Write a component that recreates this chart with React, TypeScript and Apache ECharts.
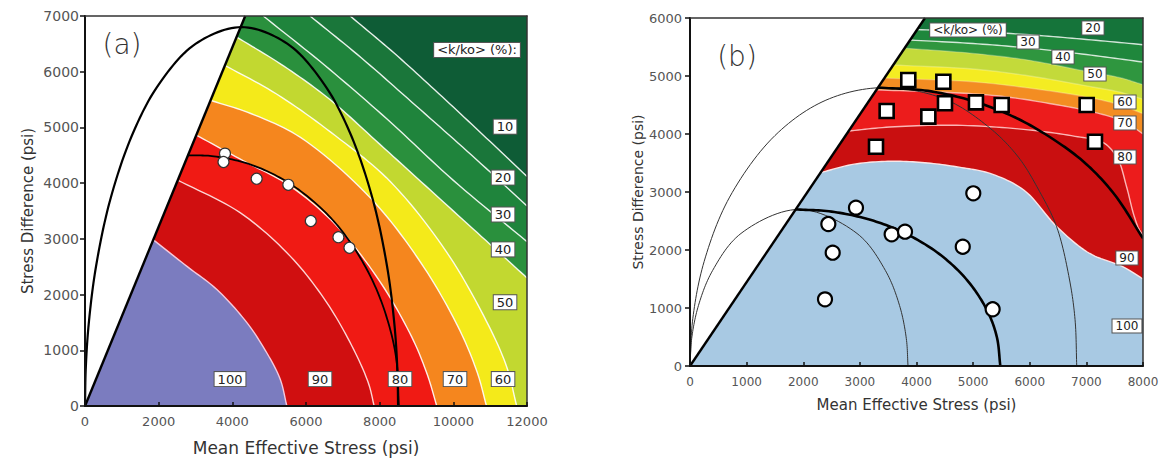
import React, { useEffect, useRef } from 'react';
import * as echarts from 'echarts';

const FONT = '"DejaVu Sans", "Liberation Sans", sans-serif';

/* ---------------- panel (a) data ---------------- */
const A_P_MAX = 12000;
const A_P_STEP = 2000;
const A_Q_MAX = 7000;
const A_Q_STEP = 1000;
const A_DIAGONAL = [[0, 0], [4350, 7000]];
// permeability bands, outermost first
const A_BANDS = ['10', '20', '30', '40', '50', '60', '70', '80', '90', '100'];
// contour boundaries (outer -> inner); boundary k encloses band k+1
const A_EDGE_20 = [[7200, 7000], [8400, 6330], [9600, 5610], [10800, 4870], [12000, 4120]];
const A_EDGE_30 = [[6110, 7000], [7500, 6250], [9000, 5380], [10500, 4500], [12000, 3590]];
const A_EDGE_40 = [[4840, 7000], [6500, 6120], [8200, 5150], [10000, 4050], [12000, 2950]];
const A_EDGE_50 = [[4100, 6630], [5400, 6100], [6650, 5500], [8000, 4700], [9500, 3800], [11000, 2900], [12000, 2300]];
const A_EDGE_60 = [[3780, 6120], [5200, 5600], [6800, 4850], [8300, 4020], [9800, 2780], [10900, 1520], [11450, 700], [11720, 0]];
const A_EDGE_70 = [[3390, 5490], [4500, 5250], [5850, 4820], [7740, 3740], [9110, 2580], [10130, 1420], [10650, 600], [10900, 0]];
const A_EDGE_80 = [[3000, 4870], [4300, 4400], [5520, 3970], [6780, 3270], [7980, 2260], [8870, 1240], [9300, 550], [9550, 0]];
const A_EDGE_90 = [[2500, 4060], [4210, 3470], [5570, 2690], [6560, 1860], [7290, 1020], [7700, 400], [7850, 0]];
const A_EDGE_100 = [[1840, 2990], [2760, 2510], [3580, 2090], [4390, 1500], [4930, 960], [5300, 480], [5480, 0]];
const A_EDGES = [A_EDGE_20, A_EDGE_30, A_EDGE_40, A_EDGE_50, A_EDGE_60, A_EDGE_70, A_EDGE_80, A_EDGE_90, A_EDGE_100];
// yield caps
const A_CAP_LARGE = [[0, 0], [20, 659], [100, 1466], [300, 2509], [700, 3739], [1300, 4895], [2000, 5769], [3000, 6499], [4250, 6800], [5500, 6499], [6500, 5769], [7200, 4895], [7800, 3739], [8200, 2509], [8400, 1466], [8480, 659], [8500, 0]];
const A_CAP_SMALL = [[2800, 4500], [3500, 4482], [4500, 4333], [5500, 4018], [6500, 3493], [7200, 2941], [7800, 2259], [8200, 1572], [8450, 851], [8520, 0]];
const A_CAPS = [A_CAP_LARGE, A_CAP_SMALL];
// test points
const A_TESTS = [[3800, 4530], [3760, 4380], [4660, 4080], [5520, 3970], [6130, 3320], [6880, 3030], [7180, 2840]];
// contour labels
const A_LABEL_TEXT = ['<k/ko> (%):', '10', '20', '30', '40', '50', '100', '90', '80', '70', '60'];
const A_LABEL_AT = [[10643, 6391], [11404, 5013], [11350, 4100], [11350, 3437], [11350, 2811], [11404, 1862], [3937, 483], [6381, 483], [8553, 483], [10046, 483], [11350, 483]];

/* ---------------- panel (b) data ---------------- */
const B_P_MAX = 8000;
const B_P_STEP = 1000;
const B_Q_MAX = 6000;
const B_Q_STEP = 1000;
const B_DIAGONAL = [[0, 0], [4150, 6000]];
const B_BANDS = ['20', '30', '40', '50', '60', '70', '80', '90', '100'];
const B_EDGE_30 = [[4010, 5800], [5000, 5770], [6000, 5710], [7000, 5630], [8000, 5540]];
const B_EDGE_40 = [[3890, 5620], [5000, 5560], [6000, 5480], [7000, 5370], [8000, 5240]];
const B_EDGE_50 = [[3790, 5480], [5000, 5390], [6000, 5270], [7000, 5080], [7600, 4970], [8000, 4850]];
const B_EDGE_60 = [[3590, 5190], [5000, 5120], [6000, 5000], [7000, 4830], [7600, 4720], [8000, 4600]];
const B_EDGE_70 = [[3430, 4965], [5000, 4900], [6000, 4790], [7000, 4640], [7600, 4500], [8000, 4350]];
const B_EDGE_80 = [[3290, 4760], [4500, 4720], [5500, 4650], [6500, 4500], [7200, 4360], [7700, 4200], [8000, 4000]];
const B_EDGE_90 = [[2790, 4050], [3530, 4120], [4710, 4150], [5890, 4080], [6800, 3960], [7300, 3850], [7550, 3580], [7710, 3090], [7830, 2630], [7920, 2380], [8000, 2250]];
const B_EDGE_100 = [[2290, 3330], [2900, 3480], [3550, 3530], [4200, 3500], [4800, 3420], [5300, 3320], [5900, 3030], [6480, 2400], [7060, 1940], [7650, 1710], [8000, 1500]];
const B_EDGES = [B_EDGE_30, B_EDGE_40, B_EDGE_50, B_EDGE_60, B_EDGE_70, B_EDGE_80, B_EDGE_90, B_EDGE_100];
const B_CAP_THIN_1 = [[0, 0], [30, 475], [150, 1045], [400, 1648], [900, 2285], [1925, 2700], [2950, 2285], [3450, 1648], [3700, 1045], [3820, 475], [3850, 0]];
const B_CAP_THIN_2 = [[0, 0], [50, 822], [250, 1803], [700, 2912], [1500, 3973], [2400, 4583], [3415, 4800], [4500, 4600], [5300, 4100], [5800, 3600], [6150, 3050], [6475, 2400], [6700, 1500], [6800, 800], [6830, 0]];
const B_CAP_THICK_1 = [[1860, 2700], [2500, 2662], [3200, 2516], [3800, 2288], [4400, 1933], [4900, 1473], [5250, 953], [5420, 495], [5480, 0]];
const B_CAP_THICK_2 = [[3320, 4800], [4200, 4743], [5000, 4567], [5800, 4258], [6500, 3854], [7000, 3480], [7500, 2953], [8000, 2200]];
const B_CAPS = [B_CAP_THIN_1, B_CAP_THIN_2, B_CAP_THICK_1, B_CAP_THICK_2];
const B_TESTS_SQUARE = [[3855, 4931], [4474, 4902], [3473, 4397], [4209, 4299], [4503, 4529], [5050, 4546], [5504, 4500], [7005, 4500], [7152, 3867], [3285, 3781]];
const B_TESTS_CIRCLE = [[2931, 2730], [2443, 2448], [2520, 1954], [2384, 1149], [3561, 2270], [3797, 2316], [5003, 2977], [4817, 2057], [5345, 978]];
const B_LABEL_TEXT = ['<k/ko> (%)', '20', '30', '40', '50', '60', '70', '80', '90', '100'];
const B_LABEL_AT = [[4909, 5793], [7116, 5828], [5969, 5586], [6587, 5328], [7152, 5034], [7681, 4552], [7681, 4190], [7681, 3603], [7717, 1862], [7717, 690]];

const AXIS_NAME_X = 'Mean Effective Stress (psi)';
const AXIS_NAME_Y = 'Stress Difference (psi)';

/* ---------------- styles ---------------- */
const A_BAND_COLORS = ['#0e5c36', '#1a763a', '#1f843c', '#2a903d', '#c2d830', '#f4ea1a', '#f5861e', '#f01a14', '#d00f10', '#7b7cbf'];
const A_EDGE_STROKES = ['rgba(255,255,255,0.9)', 'rgba(255,255,255,0.9)', 'rgba(255,255,255,0.9)', 'rgba(255,255,255,0.9)', 'rgba(255,255,255,0.9)', 'rgba(255,255,255,0.9)', 'rgba(255,255,255,0.9)', 'rgba(255,235,235,0.9)', '#f6c9dc'];
const A_CAP_WIDTHS = [2.2, 1.8];
const B_BAND_COLORS = ['#15743a', '#1f873c', '#2f963f', '#c3da3a', '#f4ec22', '#f38d22', '#ec1c1c', '#c90f10', '#a8c9e3'];
const B_EDGE_STROKES = ['rgba(255,255,255,0.8)', 'rgba(255,255,255,0.8)', 'rgba(255,255,255,0.25)', 'rgba(255,255,255,0.25)', 'rgba(255,255,255,0.25)', 'rgba(255,220,220,0.7)', 'rgba(255,200,200,0.9)', 'rgba(255,235,235,0.95)'];
const B_CAP_WIDTHS = [1, 1, 2.6, 2.6];
const B_CAP_COLORS = ['#333', '#333', '#000', '#000'];

function smoothPath(pts: number[][], steps = 12): number[][] {
  const n = pts.length;
  if (n < 3) return pts.slice();
  const ext = [
    [2 * pts[0][0] - pts[1][0], 2 * pts[0][1] - pts[1][1]],
    ...pts,
    [2 * pts[n - 1][0] - pts[n - 2][0], 2 * pts[n - 1][1] - pts[n - 2][1]],
  ];
  const knot = (a: number[], b: number[]) => Math.max(Math.sqrt(Math.hypot(b[0] - a[0], b[1] - a[1])), 1e-4);
  const out: number[][] = [];
  for (let i = 1; i < ext.length - 2; i++) {
    const p0 = ext[i - 1], p1 = ext[i], p2 = ext[i + 1], p3 = ext[i + 2];
    const t0 = 0;
    const t1 = t0 + knot(p0, p1);
    const t2 = t1 + knot(p1, p2);
    const t3 = t2 + knot(p2, p3);
    for (let s = 0; s < steps; s++) {
      const t = t1 + ((t2 - t1) * s) / steps;
      const mix = (a: number[], b: number[], ta: number, tb: number) => [
        ((tb - t) * a[0] + (t - ta) * b[0]) / (tb - ta),
        ((tb - t) * a[1] + (t - ta) * b[1]) / (tb - ta),
      ];
      const A1 = mix(p0, p1, t0, t1), A2 = mix(p1, p2, t1, t2), A3 = mix(p2, p3, t2, t3);
      const B1 = mix(A1, A2, t0, t2), B2 = mix(A2, A3, t1, t3);
      out.push(mix(B1, B2, t1, t2));
    }
  }
  out.push(pts[n - 1]);
  return out;
}

function panelSeries(cfg: any) {
  const ax = { xAxisIndex: cfg.axis, yAxisIndex: cfg.axis };
  const series: any[] = [];
  // filled contour bands (painter's order: outer first)
  series.push({
    type: 'custom', ...ax, clip: true, z: 1, silent: true,
    data: cfg.bands.map((_: string, i: number) => [0, 0, i]),
    renderItem: (params: any, api: any) => {
      const i = params.dataIndex;
      const c = (p: number[]) => api.coord(p);
      if (i === 0) {
        return { type: 'polygon', shape: { points: [c([0, 0]), c([0, cfg.qMax]), c([cfg.pMax, cfg.qMax]), c([cfg.pMax, 0])] }, style: { fill: cfg.colors[0] } };
      }
      const edge = cfg.edges[i - 1];
      const curve = smoothPath(edge.map(c));
      const poly = [c([0, 0]), c([0, edge[0][1]]), ...curve, c([edge[edge.length - 1][0], 0])];
      return {
        type: 'group',
        children: [
          { type: 'polygon', shape: { points: poly }, style: { fill: cfg.colors[i] } },
          { type: 'polyline', shape: { points: curve }, style: { fill: 'none', stroke: cfg.strokes[i - 1], lineWidth: 1.4 } },
        ],
      };
    },
  });
  // white region above the failure line
  series.push({
    type: 'custom', ...ax, clip: true, z: 2, silent: true,
    data: [[0, 0]],
    renderItem: (_p: any, api: any) => ({
      type: 'polygon',
      shape: { points: [api.coord(cfg.diag[0]), api.coord(cfg.diag[1]), api.coord([0, cfg.qMax])] },
      style: { fill: '#ffffff' },
    }),
  });
  // caps
  series.push({
    type: 'custom', ...ax, clip: true, z: 3, silent: true,
    data: cfg.caps.map((_: any, i: number) => [0, 0, i]),
    renderItem: (params: any, api: any) => {
      const i = params.dataIndex;
      const curve = smoothPath(cfg.caps[i].map((p: number[]) => api.coord(p)), 14);
      return { type: 'polyline', shape: { points: curve }, style: { fill: 'none', stroke: cfg.capColors[i], lineWidth: cfg.capWidths[i] } };
    },
  });
  // failure line
  series.push({
    type: 'line', ...ax, z: 4, data: cfg.diag, symbol: 'none', silent: true,
    lineStyle: { color: '#000', width: 2.4 },
  });
  // contour labels
  series.push({
    type: 'custom', ...ax, z: 6, silent: true,
    data: cfg.labelAt.map((p: number[], i: number) => [p[0], p[1], i]),
    renderItem: (params: any, api: any) => {
      const i = params.dataIndex;
      const pt = api.coord(cfg.labelAt[i]);
      return {
        type: 'text', x: pt[0], y: pt[1],
        style: {
          text: cfg.labelText[i], fill: '#222', font: `${cfg.labelSize}px ${FONT}`,
          align: 'center', verticalAlign: 'middle',
          backgroundColor: '#ffffff', borderColor: '#555', borderWidth: 1, padding: [1, 3, 0, 3],
        },
      };
    },
  });
  return series;
}

const plain = (v: number) => String(v);

function axisPair(grid: number, pMax: number, pStep: number, qMax: number, qStep: number, s: any) {
  const frame = { show: true, onZero: false, lineStyle: { color: '#333', width: 1.5 } };
  const x = [
    {
      gridIndex: grid, type: 'value', min: 0, max: pMax, interval: pStep, z: 10,
      name: AXIS_NAME_X, nameLocation: 'middle', nameGap: s.xNameGap,
      nameTextStyle: { fontFamily: FONT, fontSize: s.xNameSize, color: '#333' },
      axisLine: { show: true, onZero: false, lineStyle: { color: '#111', width: 2 } },
      axisTick: { show: true, inside: true, length: 4, lineStyle: { color: '#111', width: 1.5 } },
      axisLabel: { color: '#555', fontFamily: FONT, fontSize: s.xTickSize, margin: s.xTickMargin, formatter: plain },
      splitLine: { show: false },
    },
    {
      gridIndex: grid, type: 'value', position: 'top', min: 0, max: pMax, z: 10,
      axisLine: frame, axisTick: { show: false }, axisLabel: { show: false }, splitLine: { show: false },
    },
  ];
  const y = [
    {
      gridIndex: grid, type: 'value', min: 0, max: qMax, interval: qStep, z: 10,
      name: AXIS_NAME_Y, nameLocation: 'middle', nameGap: s.yNameGap, nameRotate: 90,
      nameTextStyle: { fontFamily: FONT, fontSize: s.yNameSize, color: '#333' },
      axisLine: { show: true, onZero: false, lineStyle: { color: '#111', width: 2 } },
      axisTick: { show: true, inside: false, length: 5, lineStyle: { color: '#111', width: 1.5 } },
      axisLabel: { color: '#555', fontFamily: FONT, fontSize: s.yTickSize, margin: s.yTickMargin, formatter: plain },
      splitLine: { show: false },
    },
    {
      gridIndex: grid, type: 'value', position: 'right', min: 0, max: qMax, z: 10,
      axisLine: frame, axisTick: { show: false }, axisLabel: { show: false }, splitLine: { show: false },
    },
  ];
  return { x, y };
}

export default function App() {
  const ref = useRef<HTMLDivElement>(null);
  useEffect(() => {
    if (!ref.current) return;
    const chart = echarts.init(ref.current, null, { renderer: 'svg' });
    const axA = axisPair(0, A_P_MAX, A_P_STEP, A_Q_MAX, A_Q_STEP, { xNameGap: 33, xNameSize: 17, xTickSize: 13, xTickMargin: 9, yNameGap: 50, yNameSize: 15, yTickSize: 14, yTickMargin: 6 });
    const axB = axisPair(1, B_P_MAX, B_P_STEP, B_Q_MAX, B_Q_STEP, { xNameGap: 31, xNameSize: 15, xTickSize: 12, xTickMargin: 10, yNameGap: 45, yNameSize: 14, yTickSize: 13, yTickMargin: 8 });
    const seriesA = panelSeries({
      axis: 0, pMax: A_P_MAX, qMax: A_Q_MAX, bands: A_BANDS, edges: A_EDGES, colors: A_BAND_COLORS, strokes: A_EDGE_STROKES,
      diag: A_DIAGONAL, caps: A_CAPS, capColors: ['#000', '#000'], capWidths: A_CAP_WIDTHS,
      labelAt: A_LABEL_AT, labelText: A_LABEL_TEXT, labelSize: 13,
    });
    const seriesB = panelSeries({
      axis: 2, pMax: B_P_MAX, qMax: B_Q_MAX, bands: B_BANDS, edges: B_EDGES, colors: B_BAND_COLORS, strokes: B_EDGE_STROKES,
      diag: B_DIAGONAL, caps: B_CAPS, capColors: B_CAP_COLORS, capWidths: B_CAP_WIDTHS,
      labelAt: B_LABEL_AT, labelText: B_LABEL_TEXT, labelSize: 12,
    });
    const option: any = {
      animation: false,
      grid: [
        { left: 85, top: 16, width: 442, height: 391 },
        { left: 690, top: 18, width: 453, height: 348 },
      ],
      xAxis: [...axA.x, ...axB.x],
      yAxis: [...axA.y, ...axB.y],
      graphic: [
        { type: 'text', x: 122, y: 44, style: { text: '(a)', font: `200 28px ${FONT}`, fill: '#333', align: 'center', verticalAlign: 'middle' }, z: 20 },
        { type: 'text', x: 737, y: 56, style: { text: '(b)', font: `200 28px ${FONT}`, fill: '#333', align: 'center', verticalAlign: 'middle' }, z: 20 },
      ],
      series: [
        ...seriesA,
        {
          type: 'scatter', xAxisIndex: 0, yAxisIndex: 0, z: 5, data: A_TESTS, symbol: 'circle', symbolSize: 11,
          itemStyle: { color: '#fff', borderColor: '#333', borderWidth: 1.2, opacity: 1 },
        },
        ...seriesB,
        {
          type: 'scatter', xAxisIndex: 2, yAxisIndex: 2, z: 5, data: B_TESTS_CIRCLE, symbol: 'circle', symbolSize: 14,
          itemStyle: { color: '#fff', borderColor: '#000', borderWidth: 2.2, opacity: 1 },
        },
        {
          type: 'scatter', xAxisIndex: 2, yAxisIndex: 2, z: 5, data: B_TESTS_SQUARE, symbol: 'rect', symbolSize: 14,
          itemStyle: { color: '#fff', borderColor: '#000', borderWidth: 2.6, opacity: 1 },
        },
      ],
    };
    chart.setOption(option);
    return () => chart.dispose();
  }, []);
  return <div ref={ref} style={{ position: 'fixed', left: 0, top: 0, width: '1165px', height: '461px', background: '#fff' }} />;
}
